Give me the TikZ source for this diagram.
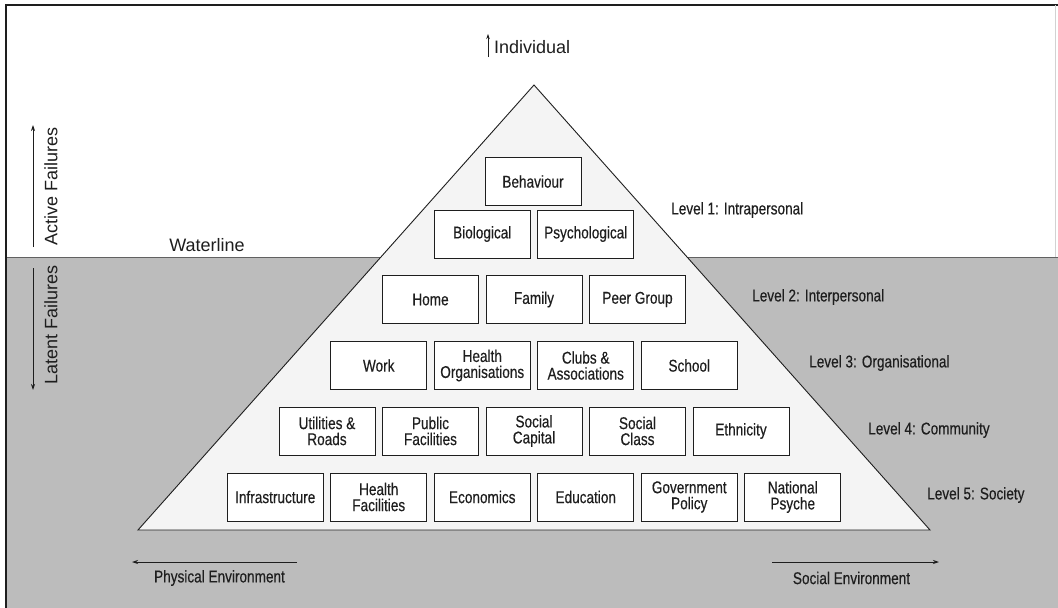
\documentclass[tikz,border=0pt]{standalone}
\usepackage{fontspec}
\setmainfont{Liberation Sans}
\newfontfamily\condfont[FakeStretch=0.8,FakeBold=0.35]{Liberation Sans}
\usetikzlibrary{arrows.meta}
\definecolor{ink}{RGB}{30,30,30}
\definecolor{water}{RGB}{188,188,188}
\definecolor{pyramid}{RGB}{244,244,244}
\begin{document}
\begin{tikzpicture}[x=1pt,y=-1pt,
  factor/.style={draw=ink, fill=white, line width=0.9pt, minimum width=96pt,
    minimum height=48pt, inner sep=0pt, align=center, text=ink,
    font=\condfont\fontsize{17}{16}\selectfont},
  levellabel/.style={anchor=west, inner sep=0pt, text=ink,
    font=\condfont\fontsize{17}{18}\selectfont},
  envlabel/.style={inner sep=0pt, text=ink,
    font=\condfont\fontsize{17}{18}\selectfont},
  bigtext/.style={inner sep=0pt, text=ink, font=\fontsize{18}{20}\selectfont},
  dirarrow/.style={-{Stealth[length=6pt,width=4pt]}, line width=0.8pt, draw=ink}]

\useasboundingbox (0,0) rectangle (1058,608);
\fill[white] (0,0) rectangle (1058,608);

% water below the waterline
\fill[water] (7,257) rectangle (1058,608);
\draw[ink!70, line width=0.8pt] (7,257) -- (1058,257);

% frame
\draw[ink, line width=1.2pt] (6,608) -- (6,5) -- (1058,5);
\draw[gray!35, line width=0.6pt] (1055,5) -- (1055,257);

% pyramid
\coordinate (apex) at (534,85);
\coordinate (bl) at (138,530);
\coordinate (br) at (930,530);
\draw[fill=pyramid, draw=ink, line width=0.9pt, line join=miter] (apex) -- (bl) -- (br) -- cycle;

% level 1: intrapersonal
\node[factor] (behaviour) at (533,181.5) {Behaviour};
\node[factor] (biological) at (482.25,234) {Biological};
\node[factor] (psychological) at (585.75,234) {Psychological};

% level 2: interpersonal
\node[factor] (home) at (430.5,299.5) {Home};
\node[factor] (family) at (534,299.5) {Family};
\node[factor] (peer) at (637.5,299.5) {Peer Group};

% level 3: organisational
\node[factor] (work) at (378.75,365.5) {Work};
\node[factor] (healthorg) at (482.25,365.5) {Health\\Organisations};
\node[factor] (clubs) at (585.75,365.5) {Clubs \&\\Associations};
\node[factor] (school) at (689.25,365.5) {School};

% level 4: community
\node[factor] (utilities) at (327,431) {Utilities \&\\Roads};
\node[factor] (public) at (430.5,431) {Public\\Facilities};
\node[factor] (capital) at (534,431) {Social\\Capital};
\node[factor] (class) at (637.5,431) {Social\\Class};
\node[factor] (ethnicity) at (741,431) {Ethnicity};

% level 5: society
\node[factor] (infra) at (275.25,497) {Infrastructure};
\node[factor] (healthfac) at (378.75,497) {Health\\Facilities};
\node[factor] (economics) at (482.25,497) {Economics};
\node[factor] (education) at (585.75,497) {Education};
\node[factor] (government) at (689.25,497) {Government\\Policy};
\node[factor] (psyche) at (792.75,497) {National\\Psyche};

% level names
\node[levellabel] (lvl1) at (671,210) {Level 1: Intrapersonal};
\node[levellabel] (lvl2) at (752,297) {Level 2: Interpersonal};
\node[levellabel] (lvl3) at (809,363) {Level 3: Organisational};
\node[levellabel] (lvl4) at (868,430) {Level 4: Community};
\node[levellabel] (lvl5) at (927,495) {Level 5: Society};

% individual at the top
\node[bigtext, anchor=west] (individual) at (494,47) {Individual};
\coordinate (indtail) at (488,57);
\coordinate (indhead) at (488,34);
\draw[dirarrow, -{Stealth[length=5pt,width=3.5pt]}] (indtail) -- (indhead);

% waterline
\node[bigtext] (waterline) at (207,245) {Waterline};

% active / latent failures
\node[bigtext, rotate=90] (active) at (51,186) {Active Failures};
\coordinate (acttail) at (33,247);
\coordinate (acthead) at (33,125);
\draw[dirarrow] (acttail) -- (acthead);

\node[bigtext, rotate=90] (latent) at (51,325) {Latent Failures};
\coordinate (lattail) at (33,268);
\coordinate (lathead) at (33,390);
\draw[dirarrow] (lattail) -- (lathead);

% environments
\coordinate (phystail) at (297,562);
\coordinate (physhead) at (132,562);
\draw[dirarrow] (phystail) -- (physhead);
\node[envlabel] (physical) at (219.5,578) {Physical Environment};

\coordinate (soctail) at (772,562);
\coordinate (sochead) at (939,562);
\draw[dirarrow] (soctail) -- (sochead);
\node[envlabel] (social) at (851.5,578) {Social Environment};
\end{tikzpicture}
\end{document}
